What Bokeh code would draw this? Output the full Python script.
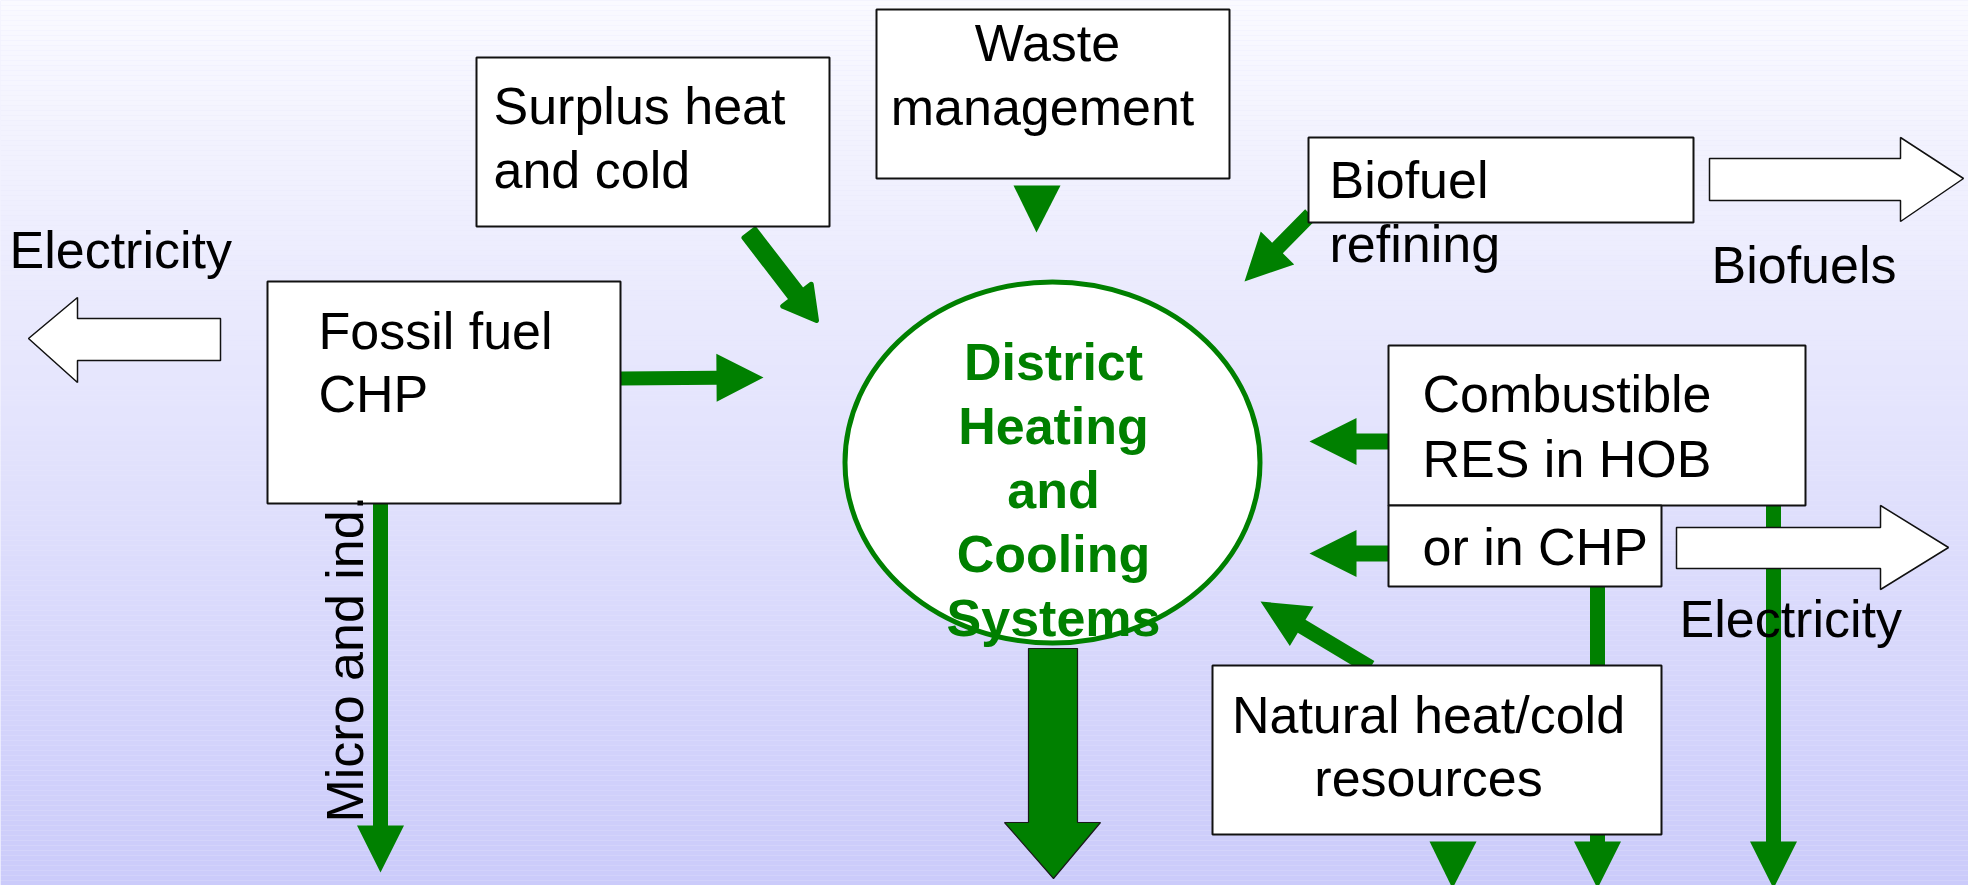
import math
from bokeh.plotting import figure
from bokeh.models import Range1d
from bokeh.core.properties import value
from bokeh.embed import file_html
from bokeh.resources import INLINE

# ---------------- content ----------------
centre_lines = ["District", "Heating", "and", "Cooling", "Systems"]
surplus_lines = ["Surplus heat", "and cold"]
waste_lines = ["Waste", "management"]
fossil_lines = ["Fossil fuel", "CHP"]
biofuel_lines = ["Biofuel", "refining"]
hob_lines = ["Combustible", "RES in HOB"]
chp_lines = ["or in CHP"]
natural_lines = ["Natural heat/cold", "resources"]
output_labels = ["Electricity", "Biofuels", "Electricity"]
micro_label = "Micro and ind."

# ---------------- layout (reference pixels, y downwards) ----------------
W, H = 1968, 885
def Y(v):
    return H - v

GREEN = "#008000"
FONT = value("Liberation Sans")
FS = value("52px")
BASE_SHIFT = 19  # renderer puts the anchor near mid-height of the glyphs

p = figure(width=W, height=H, x_range=Range1d(0, W), y_range=Range1d(0, H),
           output_backend="svg", toolbar_location=None, min_border=0)
p.axis.visible = False
p.xgrid.visible = False
p.ygrid.visible = False
p.outline_line_color = None
p.background_fill_color = "#e6e6fd"
p.border_fill_color = "#e6e6fd"

# background gradient
top_c = (250, 250, 255)
bot_c = (203, 203, 250)
step = 5
tops, bots, cols = [], [], []
for y0 in range(0, H, step):
    t = (y0 + step / 2) / H
    c = tuple(int(round(top_c[i] + (bot_c[i] - top_c[i]) * t)) for i in range(3))
    tops.append(Y(y0))
    bots.append(Y(y0 + step))
    cols.append("#%02x%02x%02x" % c)
p.quad(left=0, right=W, top=tops, bottom=bots, fill_color=cols, line_color=None)


def arrow_poly(x0, y0, x1, y1, shaft, head_w, head_len):
    dx, dy = x1 - x0, y1 - y0
    L = math.hypot(dx, dy)
    ux, uy = dx / L, dy / L
    nx, ny = -uy, ux
    bx, by = x1 - ux * head_len, y1 - uy * head_len
    s, h = shaft / 2, head_w / 2
    pts = [(x0 + nx * s, y0 + ny * s), (bx + nx * s, by + ny * s), (bx + nx * h, by + ny * h),
           (x1, y1), (bx - nx * h, by - ny * h), (bx - nx * s, by - ny * s), (x0 - nx * s, y0 - ny * s)]
    return [q[0] for q in pts], [Y(q[1]) for q in pts]


def tri(pts):
    return [q[0] for q in pts], [Y(q[1]) for q in pts]


# green arrows behind the boxes
g_xs, g_ys = [], []
for args in [
    (620, 378, 763, 377, 14, 48, 47),        # fossil -> DHC
    (1310, 214, 1244, 281, 15, 47, 47),      # biofuel -> DHC
    (1388, 441, 1309, 441, 16, 47, 47),      # HOB -> DHC
    (1388, 553, 1309, 553, 16, 47, 47),      # CHP -> DHC
    (1370, 667, 1260, 601, 15, 46, 48),      # natural -> DHC
    (380, 503, 380, 872, 15, 47, 47),        # micro and ind.
    (1773, 505, 1773, 888, 15, 47, 47),      # HOB down
    (1597, 586, 1597, 888, 15, 47, 47),      # CHP down
]:
    xs, ys = arrow_poly(*args)
    g_xs.append(xs)
    g_ys.append(ys)
for pts in [[(1013, 185), (1060, 185), (1036, 232)],     # waste
            [(1429, 841), (1476, 841), (1452, 888)]]:    # natural down
    xs, ys = tri(pts)
    g_xs.append(xs)
    g_ys.append(ys)
p.patches(g_xs, g_ys, fill_color=GREEN, line_color=None)

# surplus arrow with rounded head
sx, sy = arrow_poly(749, 233, 816, 320, 14, 36, 32)
p.patch(sx, sy, fill_color=GREEN, line_color=GREEN, line_width=5, line_join="round")

# white output arrows
w_xs, w_ys = [], []
for pts in [
    [(28, 338), (77, 297), (77, 318), (220, 318), (220, 360), (77, 360), (77, 382)],
    [(1709, 158), (1900, 158), (1900, 137), (1963, 178), (1900, 221), (1900, 200), (1709, 200)],
    [(1676, 527), (1880, 527), (1880, 505), (1948, 547), (1880, 589), (1880, 568), (1676, 568)],
]:
    xs, ys = tri(pts)
    w_xs.append(xs)
    w_ys.append(ys)
p.patches(w_xs, w_ys, fill_color="white", line_color="#111111", line_width=1.5)

# boxes
bl = [476, 876, 267, 1308, 1388, 1388, 1212]
br = [829, 1229, 620, 1693, 1805, 1661, 1661]
bt = [57, 9, 281, 137, 345, 505, 665]
bb = [226, 178, 503, 222, 505, 586, 834]
p.quad(left=bl, right=br, top=[Y(v) for v in bt], bottom=[Y(v) for v in bb],
       fill_color="white", line_color="#111111", line_width=2)

# central ellipse
p.ellipse(x=1052, y=Y(462), width=415, height=361, fill_color="white",
          line_color=GREEN, line_width=5)

# big output arrow
bx_, by_ = tri([(1028, 648), (1077, 648), (1077, 822), (1100, 822), (1053, 878),
                (1004, 822), (1028, 822)])
p.patch(bx_, by_, fill_color=GREEN, line_color="#1a1a1a", line_width=1.2)

# ---------------- texts ----------------
def put(lines, x, y0, dy, align="left", color="black", style="normal"):
    p.text(x=[x] * len(lines), y=[Y(y0 - BASE_SHIFT + i * dy) for i in range(len(lines))],
           text=lines, text_align=align, text_baseline="alphabetic", text_font=FONT,
           text_font_size=FS, text_color=color, text_font_style=style)

put(surplus_lines, 493, 124, 64)
put(waste_lines[:1], 1047, 61, 64, align="center")
put(waste_lines[1:], 1042, 125, 64, align="center")
put(fossil_lines, 318, 349, 63)
put(biofuel_lines, 1329, 198, 64)
put(hob_lines, 1422, 412, 65)
put(chp_lines, 1422, 565, 64)
put(natural_lines, 1428, 733, 63, align="center")
put(output_labels[:1], 9, 268, 0)
put(output_labels[1:2], 1711, 283, 0)
put(output_labels[2:], 1679, 637, 0)
put(centre_lines, 1053, 380, 64, align="center", color=GREEN, style="bold")

p.text(x=[363 - BASE_SHIFT], y=[Y(822)], text=[micro_label], angle=math.pi / 2,
       text_align="left", text_baseline="alphabetic", text_font=FONT,
       text_font_size=FS, text_color="black")

open("out.html", "w").write(file_html(p, INLINE))
